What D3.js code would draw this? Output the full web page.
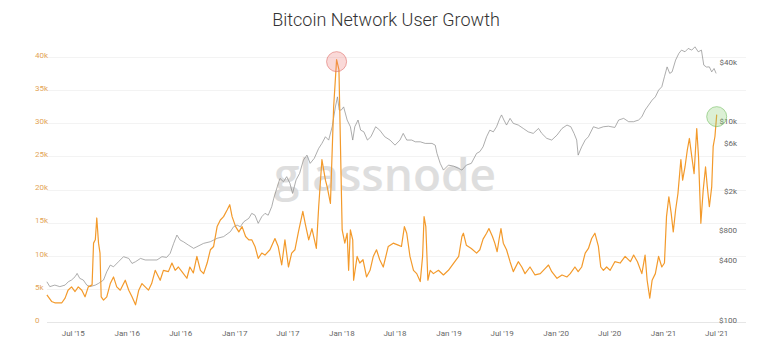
<!DOCTYPE html>
<html>
<head>
<meta charset="utf-8">
<script src="https://cdn.jsdelivr.net/npm/d3@7/dist/d3.min.js"></script>
<style>
  body { margin: 0; background: #fff; }
  text { font-family: Roboto, "Noto Sans", sans-serif; }
</style>
</head>
<body>
<div id="chart"></div>
<script>
var W = 772, H = 354;

// users (left axis)
var userDates = ["2015-04-02","2015-04-18","2015-04-29","2015-05-23","2015-06-03","2015-06-13","2015-06-25","2015-07-07","2015-07-18","2015-07-30","2015-08-10","2015-08-21","2015-09-03","2015-09-08","2015-09-14","2015-09-19","2015-09-25","2015-09-30","2015-10-04","2015-10-12","2015-10-23","2015-11-04","2015-11-15","2015-11-26","2015-12-08","2015-12-25","2016-01-06","2016-01-17","2016-01-29","2016-02-09","2016-02-20","2016-03-02","2016-03-13","2016-03-24","2016-04-05","2016-04-22","2016-05-03","2016-05-20","2016-06-01","2016-06-12","2016-06-23","2016-07-05","2016-07-22","2016-08-01","2016-08-13","2016-08-25","2016-09-06","2016-09-17","2016-09-29","2016-10-10","2016-10-21","2016-11-02","2016-11-13","2016-11-24","2016-12-06","2016-12-15","2016-12-23","2017-01-04","2017-01-15","2017-01-26","2017-02-07","2017-02-18","2017-02-28","2017-03-11","2017-03-22","2017-04-03","2017-04-14","2017-05-01","2017-05-18","2017-05-29","2017-06-10","2017-06-21","2017-07-03","2017-07-14","2017-07-25","2017-08-06","2017-08-21","2017-08-29","2017-09-10","2017-09-21","2017-10-06","2017-10-14","2017-10-25","2017-11-06","2017-11-12","2017-11-23","2017-12-04","2017-12-14","2017-12-22","2018-01-02","2018-01-11","2018-01-19","2018-01-24","2018-01-30","2018-02-07","2018-02-10","2018-02-22","2018-03-03","2018-03-14","2018-03-26","2018-04-07","2018-04-18","2018-04-29","2018-05-10","2018-05-22","2018-06-08","2018-06-25","2018-07-12","2018-07-23","2018-08-02","2018-08-10","2018-08-21","2018-09-02","2018-09-13","2018-09-25","2018-10-03","2018-10-08","2018-10-14","2018-10-21","2018-10-29","2018-11-09","2018-11-26","2018-12-13","2018-12-30","2019-01-17","2019-02-03","2019-02-14","2019-02-19","2019-03-01","2019-03-18","2019-04-05","2019-04-16","2019-04-27","2019-05-09","2019-05-17","2019-05-29","2019-06-06","2019-06-14","2019-06-21","2019-06-27","2019-07-05","2019-07-16","2019-07-28","2019-08-08","2019-08-25","2019-09-06","2019-09-17","2019-10-04","2019-10-21","2019-11-08","2019-11-25","2019-12-06","2019-12-17","2020-01-04","2020-01-21","2020-02-07","2020-02-18","2020-03-05","2020-03-16","2020-03-28","2020-04-09","2020-04-20","2020-05-01","2020-05-12","2020-05-24","2020-06-01","2020-06-10","2020-06-21","2020-07-03","2020-07-19","2020-08-06","2020-08-23","2020-09-10","2020-09-21","2020-10-04","2020-10-19","2020-10-30","2020-11-06","2020-11-15","2020-11-23","2020-12-04","2020-12-15","2020-12-26","2021-01-04","2021-01-11","2021-01-19","2021-01-27","2021-02-03","2021-02-11","2021-02-19","2021-02-26","2021-03-01","2021-03-07","2021-03-15","2021-03-23","2021-03-30","2021-04-07","2021-04-15","2021-04-24","2021-04-30","2021-05-08","2021-05-16","2021-05-24","2021-05-30","2021-06-06","2021-06-14","2021-06-19","2021-06-25","2021-07-01"];
var userValues = [3800,2800,2600,2600,3300,4500,5000,4300,5000,4500,3500,5000,5300,11600,12100,15400,11600,10100,3500,3000,3500,5500,6500,5000,4500,6000,4500,3500,2300,4500,5500,5000,4500,5500,7500,6000,7500,7300,8600,7500,8000,7300,6300,8000,7100,9600,7500,7000,8600,10600,11100,14100,15100,15600,16600,17400,15600,14100,13300,14100,12600,12100,12100,11100,9300,10100,9800,10600,12300,11100,8300,12100,8000,10100,10600,13300,16400,14600,12100,13800,10800,17100,24200,21100,20100,17600,32200,39300,37800,13600,11600,13100,7500,13600,12100,6000,9600,8600,9100,6500,7500,9600,10600,9100,8000,11100,11600,11300,11100,14100,13100,9600,7500,7000,5800,9600,15600,14100,6000,7500,7000,7500,6800,7500,8600,9600,12600,13100,11300,10800,10100,10600,12200,13100,13800,12600,11600,10300,12300,13800,11600,10600,8800,7300,8800,8000,7000,8000,6800,7000,7800,8300,7300,6300,6800,6500,7000,8000,7300,8000,10100,10800,12300,13100,11100,8000,7500,8000,7500,8800,8600,9600,8800,9800,8800,7000,9800,6000,3300,6000,7000,9600,8000,8600,15600,18600,16100,13300,16600,19100,22700,24200,21100,23100,25700,27400,24700,22100,28900,24700,14600,19600,23100,20100,17100,20100,26200,27700,31000];

// price (right axis, log)
var priceDates = ["2015-04-02","2015-04-12","2015-04-29","2015-05-16","2015-06-03","2015-06-14","2015-06-25","2015-07-07","2015-07-14","2015-07-23","2015-08-04","2015-08-16","2015-08-27","2015-09-14","2015-09-25","2015-10-12","2015-10-23","2015-11-04","2015-11-15","2015-12-02","2015-12-19","2016-01-06","2016-01-17","2016-01-29","2016-02-15","2016-03-02","2016-03-18","2016-04-11","2016-04-28","2016-05-14","2016-05-26","2016-06-07","2016-06-18","2016-06-29","2016-07-10","2016-07-27","2016-08-14","2016-08-25","2016-09-17","2016-10-10","2016-11-02","2016-11-24","2016-12-17","2016-12-28","2017-01-09","2017-01-20","2017-02-01","2017-02-18","2017-02-28","2017-03-11","2017-03-22","2017-04-03","2017-04-14","2017-04-25","2017-05-07","2017-05-14","2017-05-26","2017-06-04","2017-06-16","2017-06-27","2017-07-08","2017-07-17","2017-07-29","2017-08-10","2017-08-23","2017-09-04","2017-09-15","2017-09-29","2017-10-14","2017-10-25","2017-11-06","2017-11-17","2017-11-29","2017-12-10","2017-12-17","2017-12-23","2017-12-30","2018-01-07","2018-01-19","2018-01-30","2018-02-07","2018-02-14","2018-02-25","2018-03-06","2018-03-17","2018-03-29","2018-04-10","2018-04-26","2018-05-10","2018-05-27","2018-06-14","2018-07-01","2018-07-18","2018-07-29","2018-08-10","2018-08-27","2018-09-08","2018-09-25","2018-10-12","2018-11-04","2018-11-15","2018-11-21","2018-12-02","2018-12-13","2018-12-30","2019-01-17","2019-02-03","2019-02-14","2019-03-01","2019-03-18","2019-04-05","2019-04-16","2019-04-27","2019-05-09","2019-05-20","2019-06-01","2019-06-12","2019-06-23","2019-06-29","2019-07-07","2019-07-16","2019-07-28","2019-08-08","2019-08-25","2019-09-11","2019-09-28","2019-10-15","2019-11-02","2019-11-13","2019-11-30","2019-12-17","2020-01-04","2020-01-21","2020-02-07","2020-02-20","2020-03-02","2020-03-11","2020-03-16","2020-03-28","2020-04-09","2020-04-20","2020-05-07","2020-05-24","2020-06-10","2020-06-27","2020-07-19","2020-08-01","2020-08-18","2020-09-04","2020-09-21","2020-10-08","2020-10-19","2020-10-30","2020-11-11","2020-11-23","2020-12-04","2020-12-15","2020-12-26","2021-01-04","2021-01-13","2021-01-22","2021-01-30","2021-02-11","2021-02-22","2021-03-03","2021-03-15","2021-03-26","2021-04-07","2021-04-18","2021-04-29","2021-05-10","2021-05-18","2021-05-27","2021-06-06","2021-06-14","2021-06-22","2021-06-29"];
var priceValues = [243,217,225,217,225,243,253,273,295,263,253,225,217,225,234,253,307,358,344,387,435,418,372,387,418,403,403,403,435,428,470,593,719,640,616,570,528,548,593,616,667,693,777,872,907,872,980,1060,1190,1140,944,1100,1190,1140,1390,1690,2210,2680,2480,2790,2390,1890,2590,3010,4100,4600,3800,4270,5380,6040,7050,6520,8890,14100,17800,13100,13100,14100,10400,8890,6530,8890,10400,8220,7900,6530,7050,8890,8220,7050,6530,5800,6530,7620,6530,6530,6270,6270,6040,6040,5800,4790,3800,3250,3650,3560,3380,3250,3650,3800,4790,4990,5580,7050,8220,7900,8890,10800,11700,10400,9250,10800,9620,9250,8550,7900,7620,8550,7620,6790,6530,7330,8550,9250,8890,7620,6530,4600,5580,6530,7050,8890,8550,8890,9000,8750,10400,10800,10000,10000,10400,11200,13100,14700,16500,17800,20800,22500,28400,35700,30700,31800,41800,48800,52700,50700,54800,52700,56900,50700,52700,37200,35600,35700,31800,34400,30700];

var leftTicks = [0, 5000, 10000, 15000, 20000, 25000, 30000, 35000, 40000];
var leftLabels = ["0", "5k", "10k", "15k", "20k", "25k", "30k", "35k", "40k"];
var rightTicks = [100, 400, 800, 2000, 6000, 10000, 40000];
var rightLabels = ["$100", "$400", "$800", "$2k", "$6k", "$10k", "$40k"];
var xTicks = ["2015-07-01","2016-01-01","2016-07-01","2017-01-01","2017-07-01","2018-01-01","2018-07-01","2019-01-01","2019-07-01","2020-01-01","2020-07-01","2021-01-01","2021-07-01"];
var xLabels = ["Jul '15","Jan '16","Jul '16","Jan '17","Jul '17","Jan '18","Jul '18","Jan '19","Jul '19","Jan '20","Jul '20","Jan '21","Jul '21"];

var parse = d3.timeParse("%Y-%m-%d");
var users = userDates.map(function (d, i) { return { date: parse(d), value: userValues[i] }; });
var price = priceDates.map(function (d, i) { return { date: parse(d), value: priceValues[i] }; });

var x = d3.scaleTime()
    .domain([parse("2015-07-01"), parse("2021-07-01")])
    .range([73.3, 716.7]);
var yUsers = d3.scaleLinear().domain([0, 40000]).range([320, 55]);
var yPrice = d3.scaleLog().domain([100, 40000]).range([320, 62]);

var svg = d3.select("#chart")
    .append("svg")
    .attr("width", W)
    .attr("height", H)
    .style("background", "#fff");

// title
svg.append("text")
    .attr("x", 386)
    .attr("y", 26)
    .attr("text-anchor", "middle")
    .style("font-size", "18px")
    .style("font-weight", 300)
    .style("fill", "#333")
    .text("Bitcoin Network User Growth");

// grid
svg.append("g").selectAll("line")
    .data(leftTicks)
    .enter()
    .append("line")
    .attr("x1", 47)
    .attr("x2", 746)
    .attr("y1", function (d) { return Math.round(yUsers(d)) + 2.5; })
    .attr("y2", function (d) { return Math.round(yUsers(d)) + 2.5; })
    .style("stroke", function (d) { return d === 0 ? "#e6e6e6" : "#f3f3f3"; })
    .style("stroke-width", 1);

// watermark
svg.append("text")
    .attr("x", 385)
    .attr("y", 191)
    .attr("text-anchor", "middle")
    .style("font-family", "'Open Sans', sans-serif")
    .style("font-size", "46px")
    .style("font-weight", 600)
    .style("fill", "#d4d4d4")
    .style("opacity", 0.75)
    .text("glassnode");

// left axis labels
svg.append("g").selectAll("text")
    .data(leftTicks)
    .enter()
    .append("text")
    .attr("x", 35)
    .attr("y", function (d) { return yUsers(d); })
    .attr("dy", "0.35em")
    .style("font-size", "8px")
    .style("fill", "#e3a457")
    .text(function (d, i) { return leftLabels[i]; });

// right axis labels
svg.append("g").selectAll("text")
    .data(rightTicks)
    .enter()
    .append("text")
    .attr("x", 737)
    .attr("y", function (d) { return yPrice(d); })
    .attr("dy", "0.35em")
    .attr("text-anchor", "end")
    .style("font-size", "8px")
    .style("fill", "#666")
    .text(function (d, i) { return rightLabels[i]; });

// x axis labels
svg.append("g").selectAll("text")
    .data(xTicks)
    .enter()
    .append("text")
    .attr("x", function (d) { return x(parse(d)); })
    .attr("y", 333)
    .attr("dy", "0.35em")
    .attr("text-anchor", "middle")
    .style("font-size", "8px")
    .style("fill", "#666")
    .text(function (d, i) { return xLabels[i]; });

// lines
var priceLine = d3.line()
    .x(function (d) { return x(d.date); })
    .y(function (d) { return yPrice(d.value); });
var userLine = d3.line()
    .x(function (d) { return x(d.date); })
    .y(function (d) { return yUsers(d.value); });

svg.append("path")
    .datum(price)
    .attr("d", priceLine)
    .style("fill", "none")
    .style("stroke", "#8a8a8a")
    .style("stroke-width", 0.7);

svg.append("path")
    .datum(users)
    .attr("d", userLine)
    .style("fill", "none")
    .style("stroke", "#f39a2b")
    .style("stroke-width", 1.2)
    .style("stroke-linejoin", "round");

// highlight markers: the peak and the latest value
var peak = users.reduce(function (a, b) { return b.value > a.value ? b : a; });
var last = users[users.length - 1];
var marks = [
    { d: peak, fill: "rgba(240,130,125,0.3)", stroke: "rgba(220,100,95,0.55)" },
    { d: last, fill: "rgba(140,205,115,0.3)", stroke: "rgba(105,185,85,0.55)" }
];
svg.append("g").selectAll("circle")
    .data(marks)
    .enter()
    .append("circle")
    .attr("cx", function (m) { return x(m.d.date); })
    .attr("cy", function (m) { return yUsers(m.d.value) + 2; })
    .attr("r", 10)
    .style("fill", function (m) { return m.fill; })
    .style("stroke", function (m) { return m.stroke; })
    .style("stroke-width", 1);
</script>
</body>
</html>
